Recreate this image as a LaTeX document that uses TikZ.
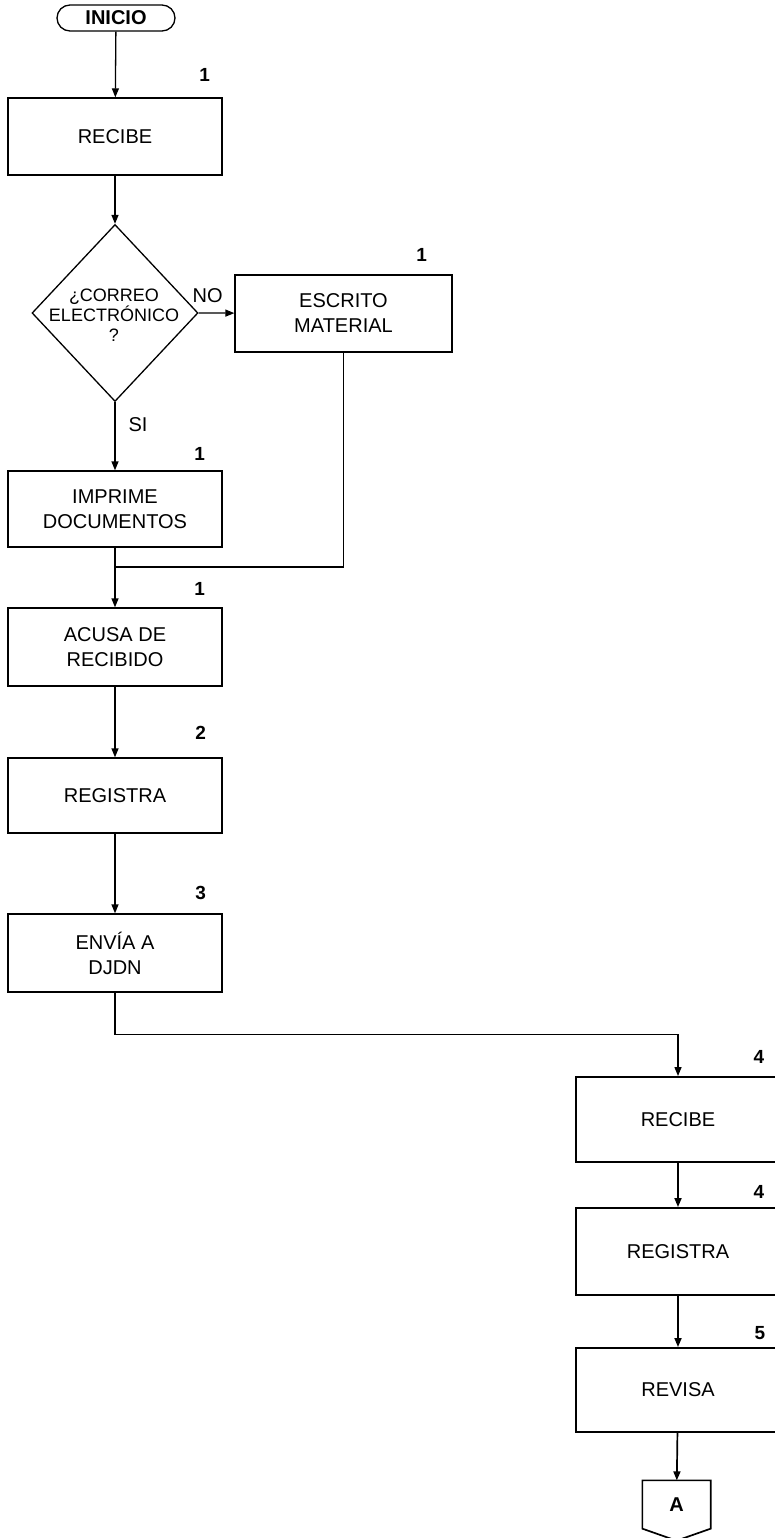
\documentclass[tikz,border=0pt]{standalone}
\usepackage{fontspec}
\setmainfont{Liberation Sans}
\usetikzlibrary{arrows.meta, positioning, shapes.geometric, calc}

\begin{document}
\begin{tikzpicture}[
    x=1pt, y=1pt,
    >={Triangle[length=9pt,width=7pt]},
    line width=1.3pt,
    proc/.style={rectangle, draw, minimum width=214pt, minimum height=77pt,
                 inner sep=2pt, align=center, font=\fontsize{20}{25}\selectfont},
    procR/.style={proc, minimum width=204pt, line width=1.9pt},
    term/.style={rectangle, draw, rounded corners=13pt, minimum width=118pt,
                 minimum height=26pt, inner sep=0pt, font=\bfseries\fontsize{20}{24}\selectfont},
    dec/.style={diamond, draw, minimum width=166pt, minimum height=177pt, inner sep=0pt},
    num/.style={inner sep=0pt, font=\bfseries\fontsize{19}{19}\selectfont},
    lbl/.style={inner sep=0pt, font=\fontsize{20}{24}\selectfont},
]
    \useasboundingbox (0,0) rectangle (775,-1538);

    % Left column
    \node[term] (inicio) at (116,-18) {INICIO};
    \node[proc] (rec1) at (115,-136.5) {RECIBE};
    \node[dec] (dec) at (115,-313) {};
    \node[align=center, inner sep=0pt, font=\fontsize{18}{20}\selectfont]
         (dectxt) at (114,-315) {¿CORREO\\ELECTRÓNICO\\?};
    \node[proc, minimum width=217pt] (esc) at (343.5,-313.5) {ESCRITO\\MATERIAL};
    \node[proc, minimum height=76pt] (imp) at (115,-509) {IMPRIME\\DOCUMENTOS};
    \node[proc, minimum height=78pt] (acu) at (115,-647) {ACUSA DE\\RECIBIDO};
    \node[proc, minimum height=75pt] (reg1) at (115,-795.5) {REGISTRA};
    \node[proc, minimum height=78pt] (env) at (115,-953) {ENVÍA A\\DJDN};

    % Right column
    \node[procR, minimum height=85pt] (rec2) at (678,-1119.5) {RECIBE};
    \node[procR, minimum height=87pt] (reg2) at (678,-1251.5) {REGISTRA};
    \node[procR, minimum height=84pt] (rev) at (678,-1390) {REVISA};
    \node[minimum width=67pt, minimum height=47pt, inner sep=0pt,
          font=\bfseries\fontsize{20}{24}\selectfont] (offA) at (676.5,-1504.5) {A};
    \draw[line width=1.7pt] (offA.north west) -- (offA.north east) -- (offA.south east)
         -- ($(offA.south)+(0,-12)$) -- (offA.south west) -- cycle;

    % Step numbers
    \node[num, above left=15pt and 12pt of rec1.north east] {1};
    \node[num, above left=12pt and 25pt of esc.north east] {1};
    \node[num, above left=9pt and 17pt of imp.north east] {1};
    \node[num, above left=11pt and 17pt of acu.north east] {1};
    \node[num, above left=17pt and 16pt of reg1.north east] {2};
    \node[num, above left=13pt and 16pt of env.north east] {3};
    \node[num, above left=12pt and 16pt of rec2.north east] {4};
    \node[num, above left=8pt and 16pt of reg2.north east] {4};
    \node[num, above left=7pt and 15pt of rev.north east] {5};

    % Connectors
    \coordinate (join) at (115,-567);
    \draw[->] (inicio) -- (rec1);
    \draw[->] (rec1) -- (dec);
    \draw[->] (dec.east) -- node[lbl, above=10pt, pos=0.25] {NO} (esc);
    \draw[->] (dec.south) -- node[lbl, right=13pt, pos=0.33] {SI} (imp);
    \draw (esc.south) |- (join);
    \draw[->] (imp) -- (acu);
    \draw[->] (acu) -- (reg1);
    \draw[->] (reg1) -- (env);
    \draw[->] (env.south) -- ++(0,-42) -| (rec2.north);
    \draw[->, line width=1.7pt] (rec2) -- (reg2);
    \draw[->, line width=1.7pt] (reg2) -- (rev);
    \draw[->, line width=1.7pt] (rev) -- (offA);
\end{tikzpicture}
\end{document}
